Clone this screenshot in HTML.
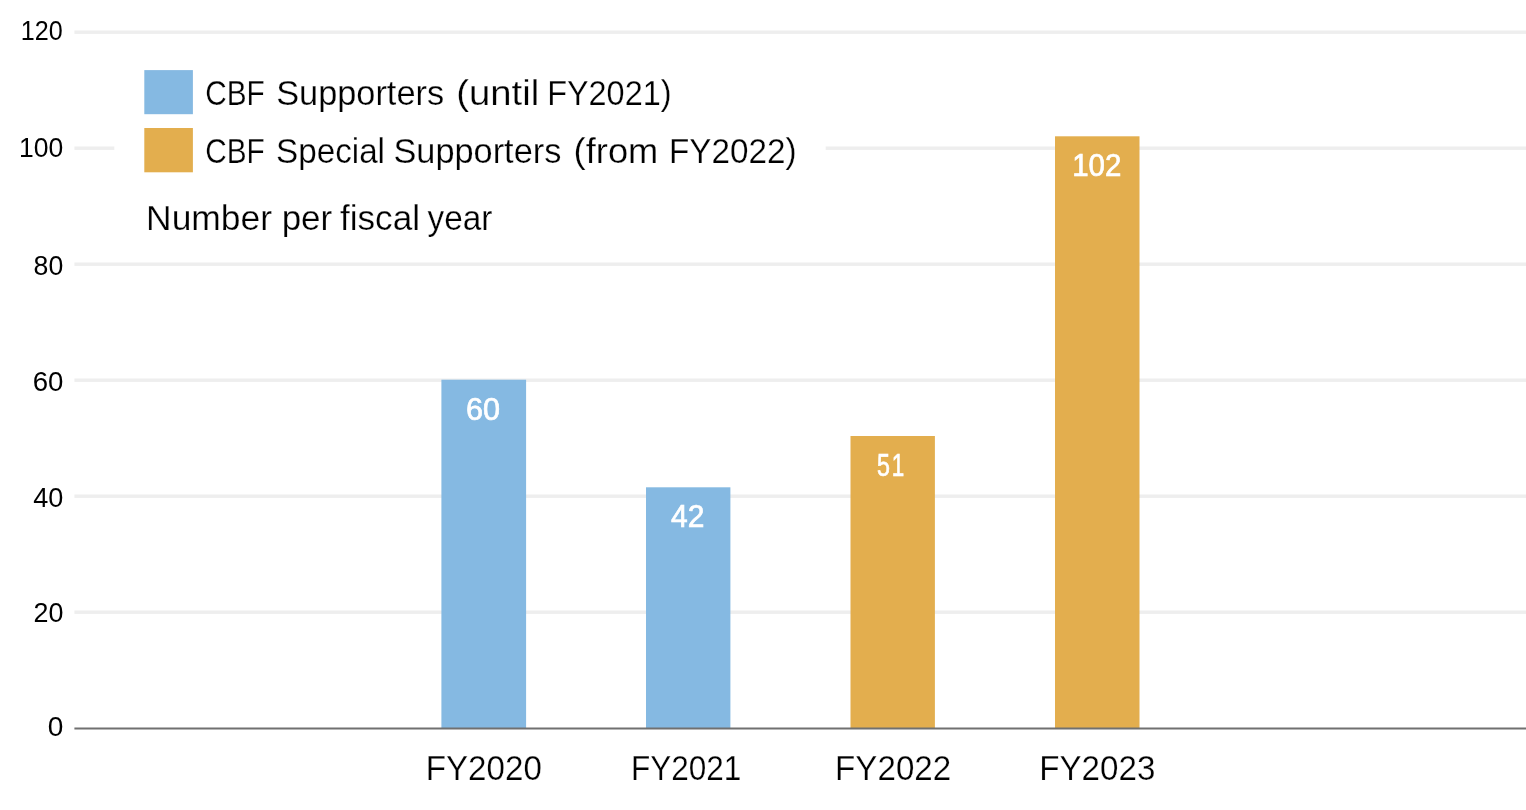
<!DOCTYPE html>
<html lang="en">
<head>
<meta charset="utf-8">
<title>CBF Supporters chart</title>
<style>
html,body{margin:0;padding:0;background:#fff;}
body{width:1526px;height:810px;overflow:hidden;}
svg{display:block;}
svg text{font-family:"Liberation Sans",sans-serif;}
</style>
</head>
<body>
<svg width="1526" height="810" viewBox="0 0 1526 810">
<rect width="1526" height="810" fill="#fff"/>
<rect x="74.4" y="30.5" width="1452" height="3.4" fill="#eeeeee"/>
<rect x="74.4" y="146.5" width="1452" height="3.4" fill="#eeeeee"/>
<rect x="74.4" y="262.5" width="1452" height="3.4" fill="#eeeeee"/>
<rect x="74.4" y="378.5" width="1452" height="3.4" fill="#eeeeee"/>
<rect x="74.4" y="494.5" width="1452" height="3.4" fill="#eeeeee"/>
<rect x="74.4" y="610.5" width="1452" height="3.4" fill="#eeeeee"/>
<rect x="114.3" y="60" width="711.4" height="190" fill="#fff"/>
<rect x="441.4" y="379.7" width="84.7" height="348.7" fill="#85b9e2"/>
<rect x="646.0" y="487.3" width="84.4" height="241.1" fill="#85b9e2"/>
<rect x="850.5" y="436.0" width="84.4" height="292.4" fill="#e3ae4e"/>
<rect x="1055.0" y="136.3" width="84.5" height="592.1" fill="#e3ae4e"/>
<rect x="74.4" y="727.5" width="1452" height="2.0" fill="#707070"/>
<rect x="144.3" y="70.1" width="48.6" height="44.1" fill="#85b9e2"/>
<rect x="144.3" y="128.0" width="48.6" height="44.3" fill="#e3ae4e"/>
<text y="104.50" font-size="35.0" fill="#000" stroke="#fff" stroke-width="0.25"><tspan x="205.16" textLength="59.47" lengthAdjust="spacingAndGlyphs">CBF</tspan> <tspan x="276.13" textLength="168.01" lengthAdjust="spacingAndGlyphs">Supporters</tspan> <tspan x="456.15" textLength="83.02" lengthAdjust="spacingAndGlyphs">(until</tspan> <tspan x="547.13" textLength="124.38" lengthAdjust="spacingAndGlyphs">FY2021)</tspan></text>
<text y="162.60" font-size="35.0" fill="#000" stroke="#fff" stroke-width="0.25"><tspan x="205.16" textLength="59.47" lengthAdjust="spacingAndGlyphs">CBF</tspan> <tspan x="276.03" textLength="108.99" lengthAdjust="spacingAndGlyphs">Special</tspan> <tspan x="393.47" textLength="167.83" lengthAdjust="spacingAndGlyphs">Supporters</tspan> <tspan x="573.62" textLength="84.70" lengthAdjust="spacingAndGlyphs">(from</tspan> <tspan x="669.02" textLength="127.53" lengthAdjust="spacingAndGlyphs">FY2022)</tspan></text>
<text y="229.60" font-size="35.0" fill="#000" stroke="#fff" stroke-width="0.25"><tspan x="146.09" textLength="125.99" lengthAdjust="spacingAndGlyphs">Number</tspan> <tspan x="281.67" textLength="50.49" lengthAdjust="spacingAndGlyphs">per</tspan> <tspan x="340.01" textLength="80.00" lengthAdjust="spacingAndGlyphs">fiscal</tspan> <tspan x="427.56" textLength="64.84" lengthAdjust="spacingAndGlyphs">year</tspan></text>
<text x="425.75" y="779.90" font-size="35.0" fill="#000" stroke="#fff" stroke-width="0.25" textLength="116.15" lengthAdjust="spacingAndGlyphs">FY2020</text>
<text x="630.88" y="779.90" font-size="35.0" fill="#000" stroke="#fff" stroke-width="0.25" textLength="110.44" lengthAdjust="spacingAndGlyphs">FY2021</text>
<text x="835.12" y="779.90" font-size="35.0" fill="#000" stroke="#fff" stroke-width="0.25" textLength="116.06" lengthAdjust="spacingAndGlyphs">FY2022</text>
<text x="1039.26" y="779.90" font-size="35.0" fill="#000" stroke="#fff" stroke-width="0.25" textLength="116.13" lengthAdjust="spacingAndGlyphs">FY2023</text>
<text y="476.00" font-size="30.5" fill="#fff" stroke="#fff" stroke-width="0.7"><tspan x="877.09" textLength="12.92" lengthAdjust="spacingAndGlyphs">5</tspan><tspan x="891.87" textLength="12.50" lengthAdjust="spacingAndGlyphs">1</tspan></text>
<text x="20.82" y="40.10" font-size="28.2" fill="#000" textLength="41.95" lengthAdjust="spacingAndGlyphs">120</text>
<text x="19.12" y="157.30" font-size="28.2" fill="#000" textLength="44.23" lengthAdjust="spacingAndGlyphs">100</text>
<text x="33.59" y="275.00" font-size="28.2" fill="#000" textLength="29.69" lengthAdjust="spacingAndGlyphs">80</text>
<text x="32.68" y="391.20" font-size="28.2" fill="#000" textLength="30.71" lengthAdjust="spacingAndGlyphs">60</text>
<text x="33.32" y="507.20" font-size="28.2" fill="#000" textLength="30.10" lengthAdjust="spacingAndGlyphs">40</text>
<text x="33.49" y="622.30" font-size="28.2" fill="#000" textLength="29.88" lengthAdjust="spacingAndGlyphs">20</text>
<text x="47.85" y="736.10" font-size="28.2" fill="#000" textLength="15.61" lengthAdjust="spacingAndGlyphs">0</text>
<text x="466.00" y="419.60" font-size="30.5" fill="#fff" stroke="#fff" stroke-width="0.7" textLength="34.02" lengthAdjust="spacingAndGlyphs">60</text>
<text x="671.00" y="527.30" font-size="30.5" fill="#fff" stroke="#fff" stroke-width="0.7" textLength="33.39" lengthAdjust="spacingAndGlyphs">42</text>
<text x="1072.19" y="175.60" font-size="30.5" fill="#fff" stroke="#fff" stroke-width="0.7" textLength="49.17" lengthAdjust="spacingAndGlyphs">102</text>
</svg>
</body>
</html>
